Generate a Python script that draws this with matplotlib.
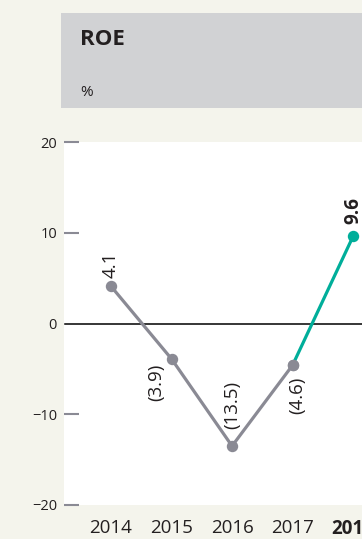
import matplotlib.pyplot as plt
import matplotlib.patches as patches

# 데이터
years = ["2014", "2015", "2016", "2017", "2018"]
roe = [4.1, -3.9, -13.5, -4.6, 9.6]
value_labels = ["4.1", "(3.9)", "(13.5)", "(4.6)", "9.6"]
y_ticks = [20, 10, 0, -10, -20]
y_tick_labels = ["20", "10", "0", "\u221210", "\u221220"]

# 색상
BG = "#f4f4ec"
HEADER = "#d1d2d4"
GRAY = "#8a8a94"
TEAL = "#00ae9a"
TEXT = "#231f20"

plt.rcParams['font.family'] = ['Open Sans', 'DejaVu Sans']

fig = plt.figure(figsize=(3.62, 5.39), dpi=100)
fig.patch.set_facecolor(BG)

# 헤더 박스
fig.patches.append(patches.Rectangle((61 / 362, 1 - 108 / 539), 1, 95 / 539,
                                     transform=fig.transFigure, facecolor=HEADER,
                                     edgecolor="none", zorder=0))
fig.text(80 / 362, 1 - 45 / 539, "ROE", fontsize=16, fontweight="bold",
         color=TEXT, ha="left", va="baseline")
fig.text(80 / 362, 1 - 96 / 539, "%", fontsize=11, color=TEXT,
         ha="left", va="baseline")

# 플롯 영역
ax = fig.add_axes([64 / 362, 34 / 539, 1 - 64 / 362, 363 / 539])
ax.set_facecolor("white")
for s in ax.spines.values():
    s.set_visible(False)
ax.set_axisbelow(True)

x = list(range(len(years)))
ax.axhline(0, color="black", lw=1.1, zorder=2, xmin=1 / 298)
ax.plot(x[:4], roe[:4], color=GRAY, lw=2.3, marker="o", ms=7.2, zorder=3,
        solid_capstyle="round")
ax.plot(x[3:], roe[3:], color=TEAL, lw=2.3, zorder=2.5)
ax.plot(x[4], roe[4], "o", color=TEAL, ms=7.2, zorder=3)
ax.plot(x[3], roe[3], "o", color=GRAY, ms=7.2, zorder=4)

# 값 라벨 (회전)
offsets = [(0, 6, "bottom"), (-10.8, -16.6, "center"), (0, 12, "bottom"),
           (3.6, -22, "center"), (0, 9, "bottom")]
for i, (dx, dy, va) in enumerate(offsets):
    bold = i == 4
    ax.annotate(value_labels[i], (x[i], roe[i]), xytext=(dx, dy),
                textcoords="offset points", rotation=90, ha="center", va=va,
                fontsize=13.5, fontweight="bold" if bold else "normal",
                color=TEXT)

ax.set_ylim(-20, 20)
ax.set_xlim(-47 / 60.5, (362 - 111) / 60.5 - 0.001)
ax.set_yticks(y_ticks)
ax.set_yticklabels(y_tick_labels)
ax.tick_params(axis="y", direction="in", length=10.8, width=1.5, color=GRAY,
               pad=5, labelsize=10.5, labelcolor=TEXT)
# 0 눈금은 기준선이 대신함
ax.yaxis.get_major_ticks()[y_ticks.index(0)].tick1line.set_visible(False)
ax.set_xticks(x)
ax.set_xticklabels(years)
ax.tick_params(axis="x", length=0, pad=10, labelsize=13.5, labelcolor=TEXT)
ax.get_xticklabels()[-1].set_fontweight("bold")

fig.savefig("out.png", dpi=100, facecolor=BG)
